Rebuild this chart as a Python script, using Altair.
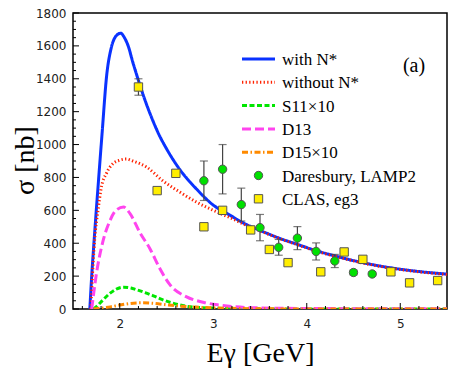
import altair as alt
import pandas as pd

# ---------------- data ----------------
series_names = ["with N*", "without N*", "S11×10", "D13", "D15×10"]
series_colors = ["#0a32ff", "#ff2200", "#00e600", "#ff44ee", "#ff8a00"]
series_dashes = [[1, 0], [1.3, 2.3], [5, 2.5], [9, 4], [6, 2.5, 1.5, 2.5]]

E_with = [1.68, 1.70, 1.73, 1.77, 1.81, 1.86, 1.91, 1.96, 2.01, 2.05, 2.09, 2.14, 2.20, 2.27,
          2.34, 2.42, 2.50, 2.64, 2.82, 3.00, 3.18, 3.35, 3.50, 3.70, 3.90, 4.10, 4.30, 4.63,
          5.00, 5.25, 5.50]
S_with = [0, 200, 450, 760, 1060, 1420, 1590, 1660, 1677, 1650, 1600, 1500, 1390, 1270,
          1165, 1060, 975, 850, 730, 632, 570, 515, 478, 432, 393, 355, 323, 278,
          242, 225, 212]

E_without = [1.69, 1.706, 1.73, 1.77, 1.80, 1.86, 1.93, 2.00, 2.07, 2.14, 2.29, 2.46, 2.64,
             2.82, 3.00, 3.18, 3.35, 3.50, 3.70, 3.90, 4.10, 4.30, 4.63, 5.00, 5.25, 5.50]
S_without = [0, 185, 410, 610, 730, 828, 885, 905, 912, 900, 862, 780, 712,
             650, 600, 555, 510, 476, 430, 391, 352, 321, 276, 240, 223, 210]

E_S11 = [1.72, 1.75, 1.82, 1.89, 1.96, 2.04, 2.12, 2.18, 2.27, 2.36, 2.45, 2.55, 2.70, 2.85,
         3.00, 3.30, 4.00, 5.50]
S_S11 = [0, 14, 55, 93, 120, 133, 128, 117, 100, 80, 58, 38, 18, 9, 5, 2, 0, 0]

E_D13 = [1.70, 1.75, 1.82, 1.89, 1.96, 2.04, 2.11, 2.22, 2.32, 2.43, 2.54, 2.71, 2.90, 3.07,
         3.40, 4.00, 5.50]
S_D13 = [0, 213, 411, 530, 600, 620, 580, 460, 370, 245, 145, 75, 40, 24, 8, 3, 1]

E_D15 = [1.72, 1.80, 1.90, 2.00, 2.10, 2.23, 2.35, 2.52, 2.70, 2.90, 3.20, 3.60, 4.20, 5.50]
S_D15 = [0, 5, 13, 24, 33, 38, 35, 24, 15, 9, 4, 1, 0, 0]

# Daresbury, LAMP2 (circles)
E_dar = [2.9, 3.1, 3.3, 3.5, 3.7, 3.9, 4.1, 4.3, 4.5, 4.7]
S_dar = [780, 850, 635, 495, 375, 431, 350, 292, 222, 213]
Err_dar = [120, 150, 100, 80, 48, 70, 52, 40, 15, 12]

# CLAS, eg3 (squares)
E_clas = [2.2, 2.4, 2.6, 2.9, 3.1, 3.4, 3.6, 3.8, 4.15, 4.4, 4.6, 4.9, 5.1, 5.4]
S_clas = [1350, 720, 825, 500, 600, 481, 362, 282, 226, 347, 302, 226, 159, 173]
Err_clas = [50, 0, 0, 0, 0, 0, 0, 0, 0, 0, 0, 0, 0, 0]

point_names = ["Daresbury, LAMP2", "CLAS, eg3"]
point_fills = ["#00e000", "#ffee00"]
point_shapes = ["circle", "square"]

x_major = [2, 3, 4, 5]
x_minor = [1.6, 1.8, 2.2, 2.4, 2.6, 2.8, 3.2, 3.4, 3.6, 3.8, 4.2, 4.4, 4.6, 4.8, 5.2, 5.4]
y_major = [0, 200, 400, 600, 800, 1000, 1200, 1400, 1600, 1800]
y_minor = [v for v in range(50, 1800, 50) if v % 200 != 0]

X_TITLE = "Eγ [GeV]"
Y_TITLE = "σ [nb]"

# ---------------- layout constants ----------------
W, H = 374, 296
YMAX = 1800
LEG_TOP, LEG_STEP = 46, 23.3          # legend row centres, pixels from plot top
LEG_X0, LEG_X1, LEG_TX = 169, 202, 209

def leg_y(row):
    # convert a legend row's pixel position into the y scale's units
    return YMAX * (1 - (LEG_TOP + row * LEG_STEP) / H)

# ---------------- tables ----------------
curve_rows = []
for name, xs, ys in zip(series_names,
                        [E_with, E_without, E_S11, E_D13, E_D15],
                        [S_with, S_without, S_S11, S_D13, S_D15]):
    for i, (x, y) in enumerate(zip(xs, ys)):
        curve_rows.append({"series": name, "E": x, "sigma": y, "i": i})
curves = pd.DataFrame(curve_rows)

pt_rows = []
for name, xs, ys, es in [(point_names[0], E_dar, S_dar, Err_dar),
                         (point_names[1], E_clas, S_clas, Err_clas)]:
    for x, y, e in zip(xs, ys, es):
        pt_rows.append({"src": name, "E": x, "sigma": y, "lo": y - e, "hi": y + e, "err": e})
points = pd.DataFrame(pt_rows)
errs = points[points["err"] > 0]
caps = pd.concat([errs.assign(cap=errs["lo"]), errs.assign(cap=errs["hi"])])

leg_lines = pd.DataFrame({"series": series_names,
                          "ly": [leg_y(r) for r in range(len(series_names))]})
leg_pts = pd.DataFrame({"src": point_names,
                        "ly": [leg_y(len(series_names) + r) for r in range(len(point_names))]})
leg_text = pd.DataFrame({"t": series_names + point_names,
                         "ly": [leg_y(r) for r in range(len(series_names) + len(point_names))]})

# ---------------- scales / axes ----------------
xscale = alt.Scale(domain=[1.5, 5.5], nice=False, zero=False)
yscale = alt.Scale(domain=[0, YMAX], nice=False, zero=False)
cscale = alt.Scale(domain=series_names, range=series_colors)
dscale = alt.Scale(domain=series_names, range=series_dashes)
fscale = alt.Scale(domain=point_names, range=point_fills)
sscale = alt.Scale(domain=point_names, range=point_shapes)

xaxis = alt.Axis(values=x_major, format="d", ticks=False, domain=False, grid=False,
                 labelPadding=9, labelOverlap=False, titleX=W / 2, titleY=52,
                 titleBaseline="alphabetic", titleAlign="center")
yaxis = alt.Axis(values=y_major, format="d", ticks=False, domain=False, grid=False,
                 labelPadding=7, labelOverlap=False, titleX=-40, titleY=H / 2 - 1,
                 titleBaseline="alphabetic", titleAlign="center", titleAngle=270)

def X(f):
    return alt.X(f, scale=xscale, axis=xaxis, title=X_TITLE)

def Y(f):
    return alt.Y(f, scale=yscale, axis=yaxis, title=Y_TITLE)

lines = alt.Chart(curves).mark_line(strokeWidth=3, interpolate="monotone", clip=True).encode(
    x=X("E:Q"), y=Y("sigma:Q"),
    color=alt.Color("series:N", scale=cscale, legend=None),
    strokeDash=alt.StrokeDash("series:N", scale=dscale, legend=None),
    order="i:Q",
)

bars = alt.Chart(errs).mark_rule(color="#444", strokeWidth=1.2).encode(
    x=X("E:Q"), y=Y("lo:Q"), y2="hi:Q")
capm = alt.Chart(caps).mark_tick(orient="horizontal", size=8, thickness=1.2, color="#444").encode(
    x=X("E:Q"), y=Y("cap:Q"))

pts = alt.Chart(points).mark_point(filled=True, size=70, stroke="#555", strokeWidth=1,
                                   opacity=1).encode(
    x=X("E:Q"), y=Y("sigma:Q"),
    fill=alt.Fill("src:N", scale=fscale, legend=None),
    shape=alt.Shape("src:N", scale=sscale, legend=None),
)

# inward ticks
xt_major = alt.Chart(pd.DataFrame({"v": x_major})).mark_rule(color="black", strokeWidth=1).encode(
    x=X("v:Q"), y=alt.value(H), y2=alt.value(H - 6))
xt_minor = alt.Chart(pd.DataFrame({"v": x_minor})).mark_rule(color="black", strokeWidth=1).encode(
    x=X("v:Q"), y=alt.value(H), y2=alt.value(H - 3))
yt_major = alt.Chart(pd.DataFrame({"v": y_major})).mark_rule(color="black", strokeWidth=1).encode(
    y=Y("v:Q"), x=alt.value(0), x2=alt.value(6))
yt_minor = alt.Chart(pd.DataFrame({"v": y_minor})).mark_rule(color="black", strokeWidth=1).encode(
    y=Y("v:Q"), x=alt.value(0), x2=alt.value(3))

# legend (drawn with the same colour / dash / shape scales)
leg_l = alt.Chart(leg_lines).mark_rule(strokeWidth=3).encode(
    x=alt.value(LEG_X0), x2=alt.value(LEG_X1), y=Y("ly:Q"),
    color=alt.Color("series:N", scale=cscale, legend=None),
    strokeDash=alt.StrokeDash("series:N", scale=dscale, legend=None),
)
leg_p = alt.Chart(leg_pts).mark_point(filled=True, size=70, stroke="#555", strokeWidth=1,
                                      opacity=1).encode(
    x=alt.value((LEG_X0 + LEG_X1) / 2), y=Y("ly:Q"),
    fill=alt.Fill("src:N", scale=fscale, legend=None),
    shape=alt.Shape("src:N", scale=sscale, legend=None),
)
leg_t = alt.Chart(leg_text).mark_text(font="Liberation Serif", fontSize=17, align="left",
                                      baseline="middle", color="black", dy=1).encode(
    x=alt.value(LEG_TX), y=Y("ly:Q"), text="t:N")

label = alt.Chart(pd.DataFrame({"t": ["(a)"]})).mark_text(
    font="Liberation Serif", fontSize=20, align="center", baseline="alphabetic", color="black"
).encode(x=alt.value(341), y=alt.value(59), text="t:N")

chart = alt.layer(lines, bars, capm, pts, xt_major, xt_minor, yt_major, yt_minor,
                  leg_l, leg_p, leg_t, label).properties(
    width=W, height=H,
    autosize=alt.AutoSizeParams(type="none"),
    padding={"left": 65, "top": 5, "right": 8, "bottom": 62},
).configure_view(stroke="black", strokeWidth=1.5).configure_axis(
    labelFont="DejaVu Sans", labelFontSize=12, labelColor="#222", labelOverlap=False,
    titleFont="Liberation Serif", titleFontSize=28, titleFontWeight="normal", titleColor="black",
)

chart.save("out.html", embed_options={"renderer": "svg", "actions": False})
